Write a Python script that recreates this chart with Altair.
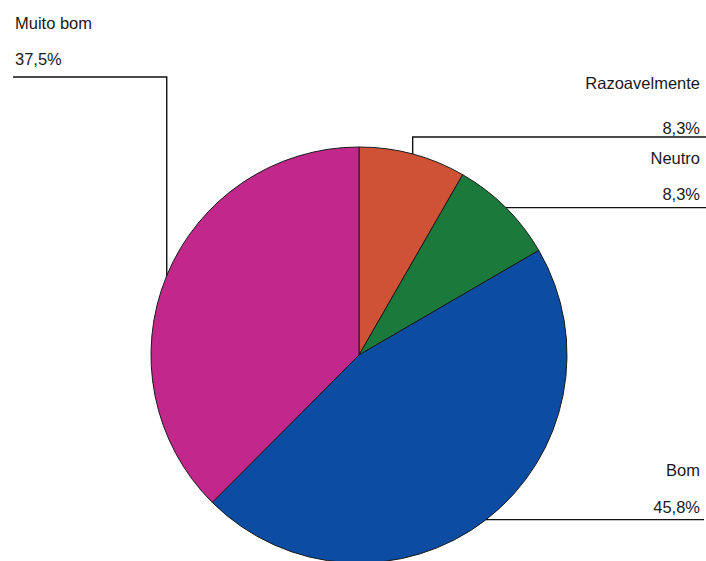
import math
import altair as alt
import pandas as pd

# ---- data ----
categories = ["Razoavelmente", "Neutro", "Bom", "Muito bom"]
values = [8.3, 8.3, 45.8, 37.5]
pct_labels = ["8,3%", "8,3%", "45,8%", "37,5%"]
colors = ["#CF5236", "#1B7A3B", "#0C4DA3", "#C2288C"]

# ---- layout ----
W, H = 706, 561
CX, CY, R = 359, 355, 208
leader_elbow_y = [137, None, None, 77]   # None -> horizontal at anchor height
leader_end_x = [706, 706, 704, 13]
name_x = [700, 700, 700, 15]
name_y = [89, 164, 476, 29]
pct_y = [134, 200, 513, 65]
align_side = ["right", "right", "right", "left"]

total = sum(values)
pie_df = pd.DataFrame({"cat": categories, "val": values, "idx": range(len(categories))})

# leader lines anchored at slice mid-angles
rows = []
cum = 0.0
for i, (c, v) in enumerate(zip(categories, values)):
    mid = (cum + v / 2) / total * 2 * math.pi
    cum += v
    ax = CX + R * math.sin(mid)
    ay = CY - R * math.cos(mid)
    ey = leader_elbow_y[i] if leader_elbow_y[i] is not None else ay
    pts = [(ax, ay), (ax, ey), (leader_end_x[i], ey)]
    for k, (px, py) in enumerate(pts):
        rows.append({"cat": c, "step": k, "px": px, "py": py})
lead_df = pd.DataFrame(rows)

text_rows = []
for i, c in enumerate(categories):
    text_rows.append({"t": c, "px": name_x[i], "py": name_y[i], "side": align_side[i]})
    text_rows.append({"t": pct_labels[i], "px": name_x[i], "py": pct_y[i], "side": align_side[i]})
text_df = pd.DataFrame(text_rows)

xs = alt.Scale(domain=[0, W], range=[0, W])
ys = alt.Scale(domain=[0, H], range=[0, H])

pie = alt.Chart(pie_df).mark_arc(radius=R, stroke="#1a1a1a", strokeWidth=1).encode(
    theta=alt.Theta("val:Q", stack=True),
    color=alt.Color("cat:N", scale=alt.Scale(domain=categories, range=colors), legend=None),
    order=alt.Order("idx:Q"),
    x=alt.value(CX),
    y=alt.value(CY),
)

leaders = alt.Chart(lead_df).mark_line(color="#111111", strokeWidth=1.4).encode(
    x=alt.X("px:Q", scale=xs, axis=None),
    y=alt.Y("py:Q", scale=ys, axis=None),
    detail="cat:N",
    order="step:Q",
)

def text_layer(side):
    return alt.Chart(text_df).transform_filter(
        alt.datum.side == side
    ).mark_text(
        align=side, baseline="alphabetic", font="Liberation Sans", fontSize=16.5, color="#1a1a1a"
    ).encode(
        x=alt.X("px:Q", scale=xs, axis=None),
        y=alt.Y("py:Q", scale=ys, axis=None),
        text="t:N",
    )

chart = alt.layer(pie, leaders, text_layer("right"), text_layer("left")).properties(
    width=W, height=H, padding=0, autosize="none", background="white"
).configure_view(stroke=None)

chart.save("out.html", embed_options={"renderer": "svg", "actions": False})
